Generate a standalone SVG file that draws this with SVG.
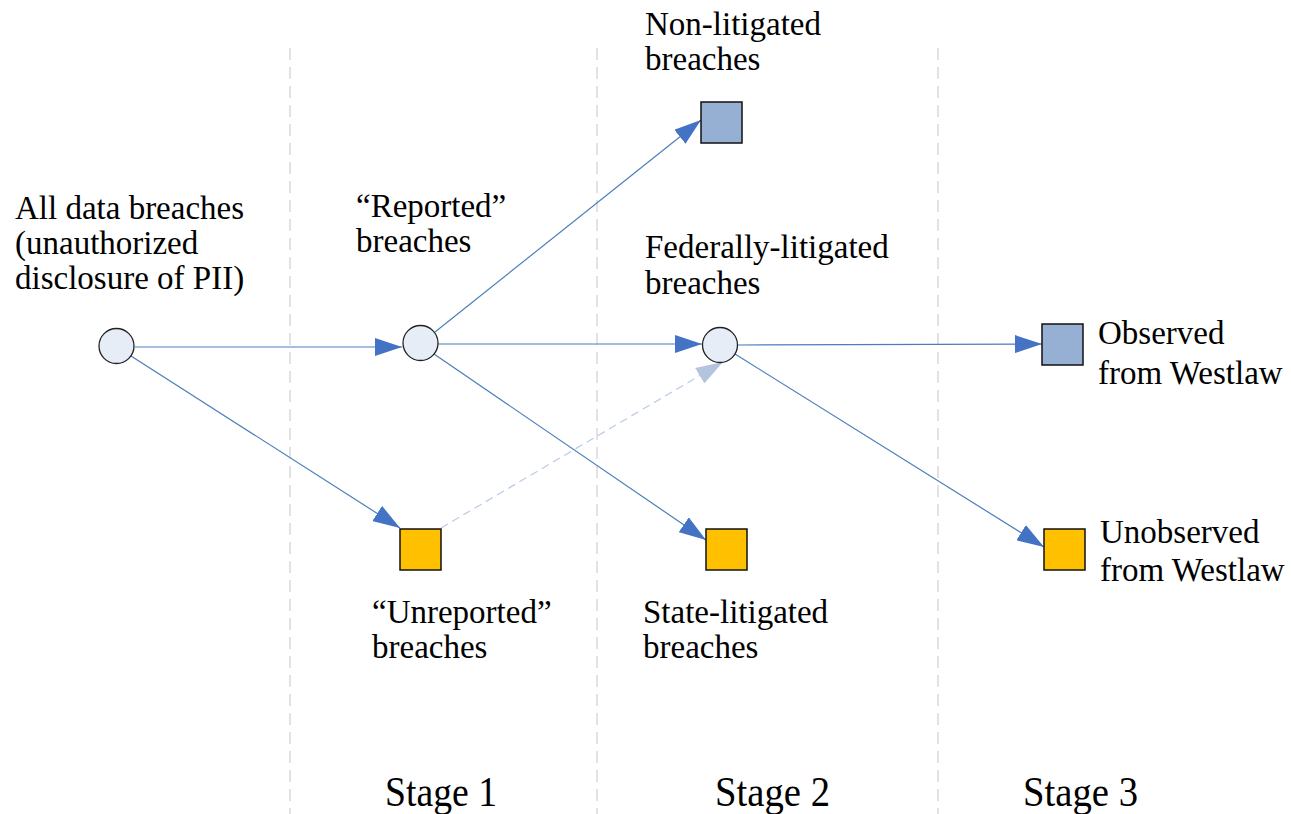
<svg xmlns="http://www.w3.org/2000/svg" width="1291" height="814" viewBox="0 0 1291 814">
  <style>
    .lbl { font-family: "Liberation Serif", "Times New Roman", serif; font-size: 33px; fill: #000; }
    .stage { font-family: "Liberation Serif", "Times New Roman", serif; font-size: 42px; fill: #000; }
    .divider { stroke: #d9d9d9; stroke-width: 1.5; stroke-dasharray: 12 7; fill: none; }
    .flow { stroke: #4a7ebb; stroke-width: 1.2; fill: none; marker-end: url(#arrow); }
    .flow-dim { stroke: #b9cbe4; stroke-width: 1.2; stroke-dasharray: 8 5; fill: none; marker-end: url(#arrow-dim); }
    .state { fill: #e6edf7; stroke: #222; stroke-width: 1.3; }
    .blue-box { fill: #95b0d3; stroke: #111; stroke-width: 1.5; }
    .gold-box { fill: #ffc000; stroke: #111; stroke-width: 1.5; }
  </style>
  <defs>
    <marker id="arrow" markerUnits="userSpaceOnUse" markerWidth="27" markerHeight="18" refX="27" refY="9" orient="auto">
      <path d="M0,0 L27,9 L0,18 z" fill="#4472c4"/>
    </marker>
    <marker id="arrow-dim" markerUnits="userSpaceOnUse" markerWidth="27" markerHeight="18" refX="27" refY="9" orient="auto">
      <path d="M0,0 L27,9 L0,18 z" fill="#b2c4de"/>
    </marker>
  </defs>

  <rect width="1291" height="814" fill="#fff"/>

  <!-- stage dividers -->
  <g id="dividers">
    <line class="divider" x1="290" y1="48" x2="290" y2="814"/>
    <line class="divider" x1="597" y1="48" x2="597" y2="814"/>
    <line class="divider" x1="938" y1="48" x2="938" y2="814"/>
  </g>

  <!-- connectors -->
  <g id="connectors">
    <line class="flow" x1="135" y1="347" x2="402" y2="347"/>
    <line class="flow" x1="131" y1="356" x2="400" y2="528"/>
    <line class="flow" x1="435" y1="332" x2="701" y2="120"/>
    <line class="flow" x1="438" y1="344" x2="702" y2="344"/>
    <line class="flow" x1="434" y1="354" x2="706" y2="540"/>
    <line class="flow" x1="738" y1="345" x2="1042" y2="344"/>
    <line class="flow" x1="735" y1="354" x2="1044" y2="547"/>
    <line class="flow-dim" x1="441" y1="528" x2="723" y2="362"/>
  </g>

  <!-- nodes -->
  <g id="all-breaches">
    <circle class="state" cx="116.5" cy="346" r="17.5"/>
    <text class="lbl" x="15" y="219">All data breaches</text>
    <text class="lbl" x="15" y="254">(unauthorized</text>
    <text class="lbl" x="15" y="289">disclosure of PII)</text>
  </g>

  <g id="reported">
    <circle class="state" cx="420.5" cy="343" r="17.5"/>
    <text class="lbl" x="356" y="217">“Reported”</text>
    <text class="lbl" x="356" y="252">breaches</text>
  </g>

  <g id="unreported">
    <rect class="gold-box" x="400" y="529" width="41" height="41"/>
    <text class="lbl" x="372" y="623">“Unreported”</text>
    <text class="lbl" x="372" y="658">breaches</text>
  </g>

  <g id="non-litigated">
    <rect class="blue-box" x="701" y="102" width="41" height="41"/>
    <text class="lbl" x="645" y="35">Non-litigated</text>
    <text class="lbl" x="645" y="70">breaches</text>
  </g>

  <g id="federally-litigated">
    <circle class="state" cx="720" cy="345" r="17.5"/>
    <text class="lbl" x="645" y="258">Federally-litigated</text>
    <text class="lbl" x="645" y="294">breaches</text>
  </g>

  <g id="state-litigated">
    <rect class="gold-box" x="706" y="529" width="41" height="41"/>
    <text class="lbl" x="643" y="623">State-litigated</text>
    <text class="lbl" x="643" y="658">breaches</text>
  </g>

  <g id="observed">
    <rect class="blue-box" x="1042" y="324" width="41" height="41"/>
    <text class="lbl" x="1098" y="344">Observed</text>
    <text class="lbl" x="1098" y="384">from Westlaw</text>
  </g>

  <g id="unobserved">
    <rect class="gold-box" x="1044" y="529" width="41" height="41"/>
    <text class="lbl" x="1100" y="543">Unobserved</text>
    <text class="lbl" x="1100" y="581">from Westlaw</text>
  </g>

  <!-- stage captions -->
  <g id="stages">
    <text class="stage" x="385" y="806" textLength="112" lengthAdjust="spacingAndGlyphs">Stage 1</text>
    <text class="stage" x="715" y="806" textLength="115" lengthAdjust="spacingAndGlyphs">Stage 2</text>
    <text class="stage" x="1023" y="806" textLength="115" lengthAdjust="spacingAndGlyphs">Stage 3</text>
  </g>
</svg>
